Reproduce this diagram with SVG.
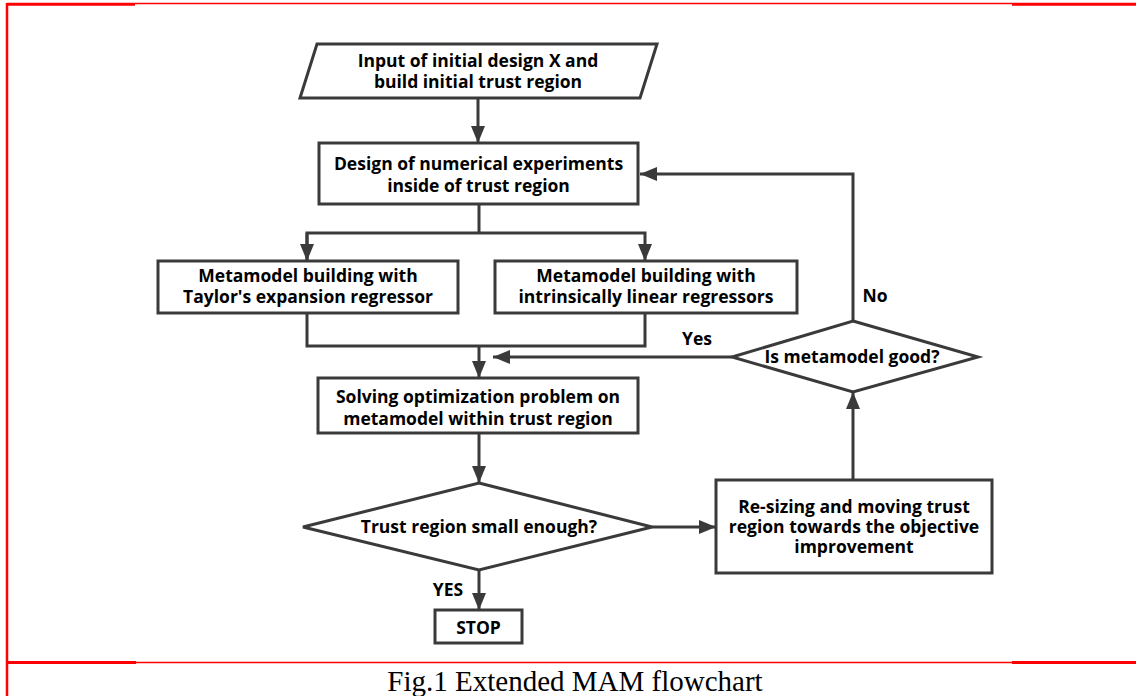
<svg xmlns="http://www.w3.org/2000/svg" width="1136" height="696" viewBox="0 0 1136 696">
<defs>
<style>
.n{fill:#fff;stroke:#3a3a3a;stroke-width:3}
.t{font-family:"Open Sans","DejaVu Sans",sans-serif;font-weight:bold;font-size:17.5px;fill:#000;text-anchor:middle}
.c{fill:none;stroke:#3a3a3a;stroke-width:3}
.r{stroke:#ff0000;fill:none}
.cap{font-family:"Liberation Serif","Times New Roman",serif;font-size:29px;fill:#000;text-anchor:middle}
</style>
<marker id="ah" markerUnits="userSpaceOnUse" markerWidth="18" markerHeight="14" refX="17" refY="7" orient="auto">
<path d="M0,0 L17,7 L0,14 z" fill="#3a3a3a"/>
</marker>
</defs>
<rect width="1136" height="696" fill="#fff"/>
<g id="frame">
<line class="r" x1="7" y1="4.2" x2="135" y2="4.2" stroke-width="3"/>
<line class="r" x1="135" y1="3.5" x2="1012" y2="3.5" stroke-width="1.5"/>
<line class="r" x1="1012" y1="4.2" x2="1136" y2="4.2" stroke-width="3"/>
<line class="r" x1="7" y1="3" x2="7" y2="696" stroke-width="2.5"/>
<line class="r" x1="7" y1="662.5" x2="136" y2="662.5" stroke-width="3"/>
<line class="r" x1="136" y1="662.5" x2="1012" y2="662.5" stroke-width="1.5"/>
<line class="r" x1="1012" y1="662.5" x2="1136" y2="662.5" stroke-width="3"/>
</g>
<g id="connectors">
<line class="c" x1="478" y1="98" x2="478" y2="143" marker-end="url(#ah)"/>
<polyline class="c" points="479,204 479,233"/>
<polyline class="c" points="307,261 307,233 645,233 645,261" marker-end="url(#ah)"/>
<line class="c" x1="307" y1="233" x2="307" y2="261" marker-end="url(#ah)"/>
<polyline class="c" points="307,313 307,346 645,346 645,313"/>
<line class="c" x1="479" y1="346" x2="479" y2="378" marker-end="url(#ah)"/>
<line class="c" x1="732" y1="357" x2="493" y2="357" marker-end="url(#ah)"/>
<line class="c" x1="479" y1="433" x2="479" y2="483" marker-end="url(#ah)"/>
<line class="c" x1="479" y1="570" x2="479" y2="610" marker-end="url(#ah)"/>
<line class="c" x1="652" y1="527" x2="716" y2="527" marker-end="url(#ah)"/>
<line class="c" x1="853" y1="480" x2="853" y2="392" marker-end="url(#ah)"/>
<polyline class="c" points="853,321 853,174 640,174" marker-end="url(#ah)"/>
<text class="t" x="697" y="345">Yes</text>
<text class="t" x="875" y="302">No</text>
<text class="t" x="448" y="596">YES</text>
</g>
<g id="input">
<polygon class="n" points="317,44 657,44 640,98 300,98"/>
<text class="t" x="478" y="67">Input of initial design X and</text>
<text class="t" x="478" y="88">build initial trust region</text>
</g>
<g id="doe">
<rect class="n" x="319" y="143" width="319" height="61"/>
<text class="t" x="478.5" y="170">Design of numerical experiments</text>
<text class="t" x="478.5" y="192">inside of trust region</text>
</g>
<g id="taylor">
<rect class="n" x="158" y="261" width="300" height="52"/>
<text class="t" x="308" y="282">Metamodel building with</text>
<text class="t" x="308" y="303">Taylor's expansion regressor</text>
</g>
<g id="linear">
<rect class="n" x="495" y="261" width="302" height="52"/>
<text class="t" x="646" y="282">Metamodel building with</text>
<text class="t" x="646" y="303">intrinsically linear regressors</text>
</g>
<g id="solve">
<rect class="n" x="318" y="378" width="320" height="55"/>
<text class="t" x="478" y="403">Solving optimization problem on</text>
<text class="t" x="478" y="425">metamodel within trust region</text>
</g>
<g id="small">
<polygon class="n" points="479,483 652,527 479,570 303,527"/>
<text class="t" x="479" y="533">Trust region small enough?</text>
</g>
<g id="stop">
<rect class="n" x="435" y="610" width="87" height="33"/>
<text class="t" x="478.5" y="634">STOP</text>
</g>
<g id="resize">
<rect class="n" x="716" y="480" width="276" height="93"/>
<text class="t" x="854" y="513">Re-sizing and moving trust</text>
<text class="t" x="854" y="533">region towards the objective</text>
<text class="t" x="854" y="553">improvement</text>
</g>
<g id="good">
<polygon class="n" points="853,321 978,357 853,392 732,357"/>
<text class="t" x="852" y="363">Is metamodel good?</text>
</g>
<text class="cap" x="575" y="691">Fig.1 Extended MAM flowchart</text>
</svg>
